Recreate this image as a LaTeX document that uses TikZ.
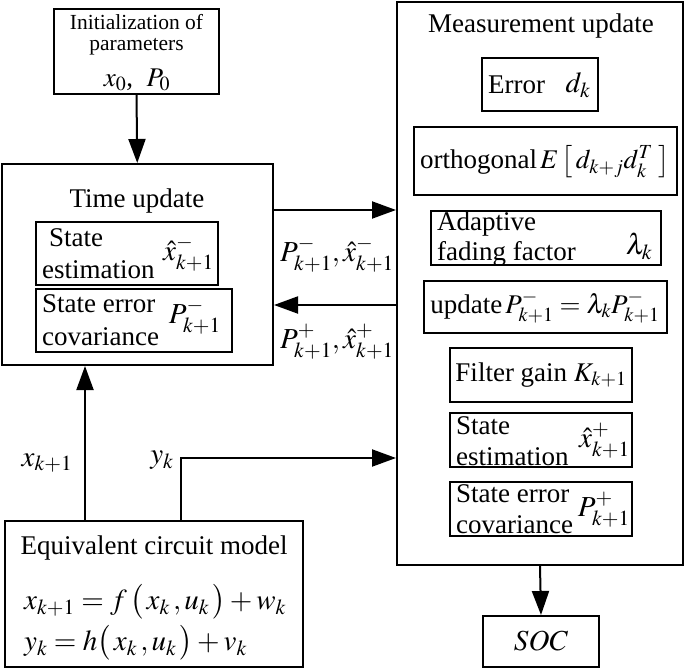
\documentclass[tikz,border=0pt]{standalone}
\usepackage{mathptmx}
\usepackage[no-math]{fontspec}
\setmainfont{Liberation Serif}
\usetikzlibrary{arrows.meta}
\newcommand\mybox[5]{\node[box,minimum width={#4-#2},minimum height={#5-#3}] (#1) at ({(#2+#4)/2},{(#3+#5)/2}) {};}
\begin{document}
\begin{tikzpicture}[x=1pt,y=-1pt,
  box/.style={draw,line width=2pt,inner sep=0pt},
  txt/.style={inner sep=0pt,font=\fontsize{27}{30}\selectfont},
  small/.style={inner sep=0pt,font=\fontsize{21.5}{25}\selectfont},
  eqn/.style={inner sep=0pt,font=\fontsize{29}{32}\selectfont},
  arr/.style={line width=2pt,-{Triangle[length=24pt,width=17pt]}}]
\useasboundingbox (0,0) rectangle (685,671);
% boxes
\mybox{init}{54}{9}{219}{94}
\mybox{tu}{1.5}{164}{273}{365}
\mybox{tse}{36}{222}{218}{285}
\mybox{tsc}{36}{289}{232}{352}
\mybox{mu}{397}{2}{683}{565}
\mybox{err}{482}{58}{598}{111}
\mybox{orth}{414}{127}{677}{195}
\mybox{adap}{431}{211}{661}{265}
\mybox{upd}{424}{281}{667}{333}
\mybox{gain}{450}{348}{632}{402}
\mybox{mse}{450}{413}{632}{467}
\mybox{msc}{450}{482}{632}{536}
\mybox{soc}{483}{616}{599}{667}
\mybox{ecm}{5}{521}{303}{667}
% init text
\node[small] (i1) at (136.5,22) {Initialization of};
\node[small] (i2) at (136.5,47) {parameters};
\node[txt] (i3) at (137,80) {$x_0$,\ \ $P_0$};
% time update
\node[txt] (tut) at (137,201) {Time update};
\node[txt,anchor=west] (t1) at (49,238) {State};
\node[txt,anchor=west] (t2) at (42,270) {estimation};
\node[eqn,anchor=east] (t3) at (214,254) {$\hat{x}^{-}_{k+1}$};
\node[txt,anchor=west] (t4) at (42,304) {State error};
\node[txt,anchor=west] (t5) at (42,337) {covariance};
\node[eqn,anchor=east] (t6) at (221,317) {$P^{-}_{k+1}$};
% transfer labels
\node[eqn] (la) at (337,255) {$P^{-}_{k+1},\hat{x}^{-}_{k+1}$};
\node[eqn] (lb) at (337,342) {$P^{+}_{k+1},\hat{x}^{+}_{k+1}$};
% measurement update
\node[txt] (mut) at (541,26) {Measurement update};
\node[txt,anchor=west] (m1) at (488,85) {Error};
\node[eqn] (m2) at (578,85) {$d_k$};
\node[txt] (m3) at (545,162) {orthogonal$\,E\left[\,d_{k+j}d_k^{T}\;\right]$};
\node[txt,anchor=west] (m4) at (437,224) {Adaptive};
\node[txt,anchor=west] (m5) at (437,254) {fading factor};
\node[eqn] (m6) at (639,246) {$\lambda_k$};
\node[txt] (m7) at (545,307) {update$\,P^{-}_{k+1}=\lambda_k P^{-}_{k+1}$};
\node[txt] (m8) at (541,375) {Filter gain $K_{k+1}$};
\node[txt,anchor=west] (m9) at (456,426) {State};
\node[txt,anchor=west] (m10) at (456,457) {estimation};
\node[eqn,anchor=east] (m11) at (630,441) {$\hat{x}^{+}_{k+1}$};
\node[txt,anchor=west] (m12) at (456,494) {State error};
\node[txt,anchor=west] (m13) at (456,525) {covariance};
\node[eqn,anchor=east] (m14) at (630,510) {$P^{+}_{k+1}$};
\node[eqn] (soct) at (541,641) {$SOC$};
% equivalent circuit model
\node[txt] (e1) at (154,548) {Equivalent circuit model};
\node[eqn,anchor=west] (e2) at (24,602) {$x_{k+1}=f\,\bigl(\,x_k\,,u_k\,\bigr)+w_k$};
\node[eqn,anchor=west] (e3) at (24,643) {$y_k=h\bigl(\,x_k\,,u_k\,\bigr)+v_k$};
\node[eqn] (lx) at (47,463) {$x_{k+1}$};
\node[eqn] (ly) at (162,460) {$y_k$};
% connectors
\coordinate (ya) at (0,210);
\coordinate (yb) at (0,305);
\coordinate (xa) at (85,0);
\coordinate (yc) at (181,458);
\draw[arr] (init.south) -- (tu.north);
\draw[arr] (ya -| tu.east) -- (ya -| mu.west);
\draw[arr] (yb -| mu.west) -- (yb -| tu.east);
\draw[arr] (xa |- ecm.north) -- (xa |- tu.south);
\draw[arr] (yc |- ecm.north) -- (yc) -- (yc -| mu.west);
\draw[arr] (mu.south) -- (soc.north);
\end{tikzpicture}
\end{document}
